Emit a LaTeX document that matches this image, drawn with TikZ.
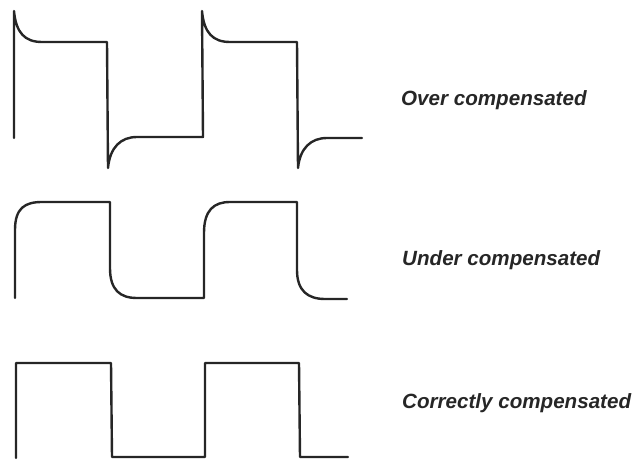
\documentclass[tikz,border=0pt]{standalone}
\usepackage{fontspec}
\setmainfont{Liberation Sans}
\begin{document}
\begin{tikzpicture}[x=1pt,y=-1pt,
  wave/.style={line width=2.4pt,line join=round,line cap=round,black!85},
  lbl/.style={anchor=west,inner sep=0pt,font=\fontsize{20.6}{24}\selectfont\bfseries\itshape,text=black!85}]
\useasboundingbox (0,0) rectangle (643,460);
% Over compensated
\draw[wave] (14,138) -- (14,11) .. controls (16,33) and (25,42) .. (42,42) -- (107,42)
  -- (108,168) .. controls (110,147) and (121,137) .. (137,137) -- (203,137)
  -- (202,11) .. controls (204,33) and (213,42) .. (230,42) -- (297,42)
  -- (298,168) .. controls (300,148) and (311,138) .. (327,138) -- (362,138);
% Under compensated
\draw[wave] (15,298) -- (15,230) .. controls (15,208) and (25,202) .. (42,202) -- (110,202)
  -- (110,268) .. controls (110,290) and (120,298) .. (137,298) -- (204,298)
  -- (204,233) .. controls (204,210) and (214,202) .. (230,202) -- (297,202)
  -- (297,270) .. controls (297,291) and (308,299) .. (325,299) -- (347,299);
% Correctly compensated
\draw[wave] (16,458) -- (16,363) -- (111,363) -- (112,457) -- (205,457)
  -- (205,363) -- (299,363) -- (300,457) -- (348,457);
\node[lbl] (over) at (401,100) {Over compensated};
\node[lbl] (under) at (402,260) {Under compensated};
\node[lbl] (correct) at (402,403) {Correctly compensated};
\end{tikzpicture}
\end{document}
